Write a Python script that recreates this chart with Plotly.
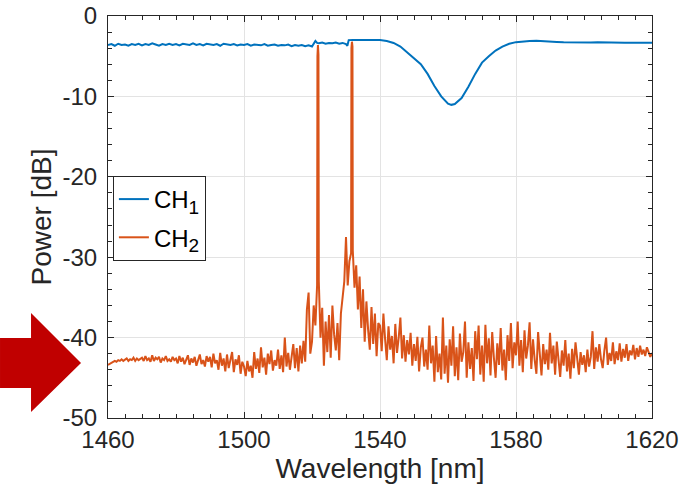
import numpy as np
import plotly.graph_objects as go

# ---------------- data ----------------
# CH2 noise floor, sampled every 0.5 nm from 1460 nm (values in dB)
ch2_1460 = [-43.4,-43.3,-43.2,-43.1,-42.9,-43.0,-42.8,-42.9,-42.7,-42.9,-42.8,-42.6,-42.9,-42.7,-42.8,-42.5,-42.9,-42.6,-42.8,-42.7]
ch2_1470 = [-42.5,-42.9,-42.3,-42.8,-42.6,-43.0,-42.2,-42.9,-42.5,-42.7,-42.4,-43.1,-42.6,-42.8,-42.3,-42.9,-42.7,-43.0,-42.4,-42.8]
ch2_1480 = [-42.6,-43.2,-42.3,-43.0,-42.5,-43.3,-42.7,-42.2,-43.4,-42.6,-43.1,-42.4,-43.5,-42.7,-42.1,-43.3,-42.8,-43.6,-42.3,-43.0]
ch2_1490 = [-42.4,-43.7,-42.0,-43.2,-42.8,-44.0,-41.9,-43.5,-42.6,-44.2,-42.1,-43.8,-42.9,-41.8,-44.3,-42.7,-43.4,-42.2,-44.5,-43.0]
ch2_1500 = [-43.6,-44.8,-42.9,-44.2,-43.5,-45.0,-41.8,-43.9,-42.6,-44.4,-41.2,-43.7,-42.5,-44.6,-42.0,-43.3,-41.6,-44.1,-42.8,-43.5]
ch2_1510 = [-41.5,-43.9,-42.2,-44.3,-40.0,-43.6,-41.9,-44.0,-42.4,-40.8,-43.8,-41.3,-44.2,-41.0,-43.2,-40.4,-43.0,-36.5,-34.4,-42.0]
ch2_1520 = [-40.5,-36.0,-38.5,-33.5,-33.0,-40.0,-36.3,-43.5,-38.0,-41.8,-37.2,-42.5,-36.0,-39.6,-41.6,-38.2,-42.8,-37.0,-35.0,-33.0]
ch2_1530 = [-27.5,-33.5,-30.5,-29.5,-29.2,-33.8,-31.0,-36.5,-32.4,-38.8,-34.0,-40.5,-35.5,-39.0,-41.5,-36.2,-40.8,-37.0,-42.3,-38.2]
ch2_1540 = [-38.5,-41.7,-37.0,-40.2,-42.8,-38.6,-41.5,-39.8,-43.2,-38.3,-41.9,-40.0,-37.5,-42.6,-39.7,-43.0,-40.3,-42.1,-39.4,-43.5]
ch2_1550 = [-40.8,-42.9,-39.9,-44.2,-41.2,-40.0,-43.6,-41.5,-44.0,-38.5,-43.2,-41.0,-45.5,-39.8,-44.3,-42.0,-45.2,-37.5,-44.5,-41.0]
ch2_1560 = [-45.6,-40.2,-43.5,-38.6,-44.8,-41.2,-45.3,-39.5,-43.0,-41.8,-38.0,-45.0,-40.6,-43.9,-41.3,-45.4,-39.2,-42.7,-38.5,-44.6]
ch2_1570 = [-41.0,-45.5,-38.4,-43.2,-40.1,-44.7,-39.3,-42.5,-45.0,-40.7,-43.4,-38.8,-44.1,-41.5,-45.3,-39.7,-42.9,-38.2,-43.8,-40.6]
ch2_1580 = [-42.2,-38.0,-43.5,-40.3,-44.3,-39.1,-42.6,-41.0,-38.1,-43.9,-40.2,-42.8,-44.5,-39.3,-42.1,-44.7,-40.8,-43.3,-41.5,-44.0]
ch2_1590 = [-39.4,-43.2,-41.0,-44.6,-40.5,-42.7,-44.9,-41.6,-43.5,-40.3,-44.2,-42.0,-45.1,-41.4,-43.8,-40.6,-43.0,-44.6,-41.8,-43.4]
ch2_1600 = [-42.2,-44.3,-41.5,-43.6,-42.4,-39.2,-43.9,-41.2,-43.0,-40.8,-42.7,-43.8,-41.6,-40.0,-43.4,-41.9,-42.9,-40.6,-43.3,-41.7]
ch2_1610 = [-42.8,-40.7,-43.0,-41.4,-42.5,-40.8,-42.9,-41.6,-42.2,-40.9,-42.7,-41.3,-42.4,-41.0,-42.1,-41.5,-42.3,-41.2,-41.8,-42.4,-41.9]

# CH2 laser lines (wavelength nm, power dB)
peak_wl = [1521.6, 1521.75, 1521.9, 1531.6, 1531.75, 1531.9]
peak_pw = [-5.0, -3.6, -4.8, -4.0, -3.2, -3.8]

# CH1 flat part, every 1 nm from 1460 to 1520
ch1_flat = [-3.6,-3.5,-3.7,-3.45,-3.6,-3.55,-3.7,-3.5,-3.6,-3.45,
            -3.65,-3.5,-3.6,-3.4,-3.55,-3.7,-3.5,-3.6,-3.45,-3.6,
            -3.5,-3.65,-3.45,-3.55,-3.6,-3.4,-3.6,-3.5,-3.65,-3.45,
            -3.55,-3.6,-3.5,-3.7,-3.45,-3.55,-3.6,-3.5,-3.65,-3.55,
            -3.6,-3.5,-3.7,-3.55,-3.6,-3.65,-3.5,-3.7,-3.6,-3.55,
            -3.7,-3.6,-3.65,-3.55,-3.75,-3.6,-3.7,-3.6,-3.75,-3.65,
            -3.8]
# CH1 remaining part (explicit wavelengths)
ch1_tail_wl = [1521.0, 1521.5, 1522, 1523, 1524, 1525, 1526, 1527, 1528, 1529, 1530, 1530.4, 1530.8,
               1532, 1534, 1536, 1538, 1540, 1542, 1544, 1546, 1548, 1550, 1552, 1554, 1556, 1558,
               1560, 1561, 1562, 1564, 1566, 1568, 1570, 1572, 1574, 1576, 1578, 1580, 1582, 1584,
               1586, 1588, 1590, 1592, 1594, 1596, 1598, 1600, 1602, 1604, 1606, 1608, 1610, 1612,
               1614, 1616, 1618, 1620]
ch1_tail_pw = [-3.1, -3.35, -3.4, -3.3, -3.45, -3.35, -3.4, -3.3, -3.45, -3.35, -3.5, -3.7, -3.0,
               -2.98, -2.97, -2.97, -2.98, -3.0, -3.1, -3.35, -3.8, -4.5, -5.2, -6.0, -7.2, -8.7, -10.0,
               -10.9, -11.05, -10.95, -10.2, -8.8, -7.2, -5.8, -5.0, -4.3, -3.8, -3.45, -3.25, -3.15, -3.1,
               -3.08, -3.1, -3.15, -3.22, -3.28, -3.3, -3.32, -3.32, -3.3, -3.28, -3.27, -3.28, -3.3, -3.32,
               -3.33, -3.33, -3.32, -3.33]

x_ticks = [1460, 1500, 1540, 1580, 1620]
x_ticktext = ["1460", "1500", "1540", "1580", "1620"]
y_ticks = [0, -10, -20, -30, -40, -50]
y_ticktext = ["0", "-10", "-20", "-30", "-40", "-50"]

# ---------------- assemble ----------------
ch2_floor = (ch2_1460 + ch2_1470 + ch2_1480 + ch2_1490 + ch2_1500 + ch2_1510 + ch2_1520 + ch2_1530 +
             ch2_1540 + ch2_1550 + ch2_1560 + ch2_1570 + ch2_1580 + ch2_1590 + ch2_1600 + ch2_1610)
floor_wl = 1460 + 0.5 * np.arange(len(ch2_floor))
ch2_wl = np.concatenate([floor_wl, peak_wl])
ch2_pw = np.concatenate([ch2_floor, peak_pw])
order = np.argsort(ch2_wl, kind="stable")
ch2_wl, ch2_pw = ch2_wl[order], ch2_pw[order]

ch1_wl = np.concatenate([1460 + np.arange(len(ch1_flat)), ch1_tail_wl])
ch1_pw = np.concatenate([ch1_flat, ch1_tail_pw])

BLUE = "#0072BD"
ORANGE = "#D95319"
AX = "#262626"
FONT = "Liberation Sans, Arial, Helvetica, sans-serif"

fig = go.Figure()
fig.add_trace(go.Scatter(x=ch1_wl, y=ch1_pw, mode="lines",
                         name="CH<sub><span style='font-size:19px'>1</span></sub>",
                         legendgroup="a", line=dict(color=BLUE, width=2)))
fig.add_trace(go.Scatter(x=ch2_wl, y=ch2_pw, mode="lines",
                         name="CH<sub><span style='font-size:19px'>2</span></sub>",
                         legendgroup="b", line=dict(color=ORANGE, width=2)))

W, H = 687, 491
L, R, T, B = 108, 35, 16, 73
pw, ph = W - L - R, H - T - B

def px(xp, yp):
    return (xp - L) / pw, (H - B - yp) / ph

arrow_pts = [(0, 338), (31, 338), (31, 313), (81, 363), (31, 412), (31, 388), (0, 388)]
path = "M " + " L ".join("%.4f,%.4f" % px(a, b) for a, b in arrow_pts) + " Z"
fig.add_shape(type="path", path=path, xref="paper", yref="paper",
              fillcolor="#C00000", line=dict(width=0), layer="below")

axis_common = dict(
    showline=True, linecolor=AX, linewidth=1, mirror="ticks",
    ticks="inside", ticklen=6, tickcolor=AX, tickwidth=1,
    showgrid=True, gridcolor="#E3E3E3", gridwidth=1, zeroline=False,
    tickfont=dict(family=FONT, size=24, color=AX),
)

fig.update_layout(
    width=W, height=H,
    margin=dict(l=L, r=R, t=T, b=B, autoexpand=False),
    plot_bgcolor="white", paper_bgcolor="white",
    font=dict(family=FONT, color=AX),
    xaxis=dict(range=[1460, 1620], tickvals=x_ticks, ticktext=x_ticktext, ticklabelstandoff=0,
               minor=dict(dtick=5, tick0=1460, ticks="inside", ticklen=4, tickcolor=AX, showgrid=False),
               title=dict(text="Wavelength [nm]", font=dict(family=FONT, size=28, color=AX), standoff=0),
               **axis_common),
    yaxis=dict(range=[-50, 0], tickvals=y_ticks, ticktext=y_ticktext, ticklabelstandoff=5,
               minor=dict(dtick=2, tick0=0, ticks="inside", ticklen=4, tickcolor=AX, showgrid=False),
               title=dict(text="Power [dB]", font=dict(family=FONT, size=28, color=AX), standoff=2),
               **axis_common),
    legend=dict(x=0.009, y=0.602, xanchor="left", yanchor="top",
                bgcolor="white", bordercolor=AX, borderwidth=1,
                font=dict(family=FONT, size=24, color="black"),
                itemwidth=30, tracegroupgap=4),
    showlegend=True,
)

fig.write_html("out.html", config={"displayModeBar": False},
               post_script="document.body.style.margin='0';document.body.style.overflow='hidden';")
